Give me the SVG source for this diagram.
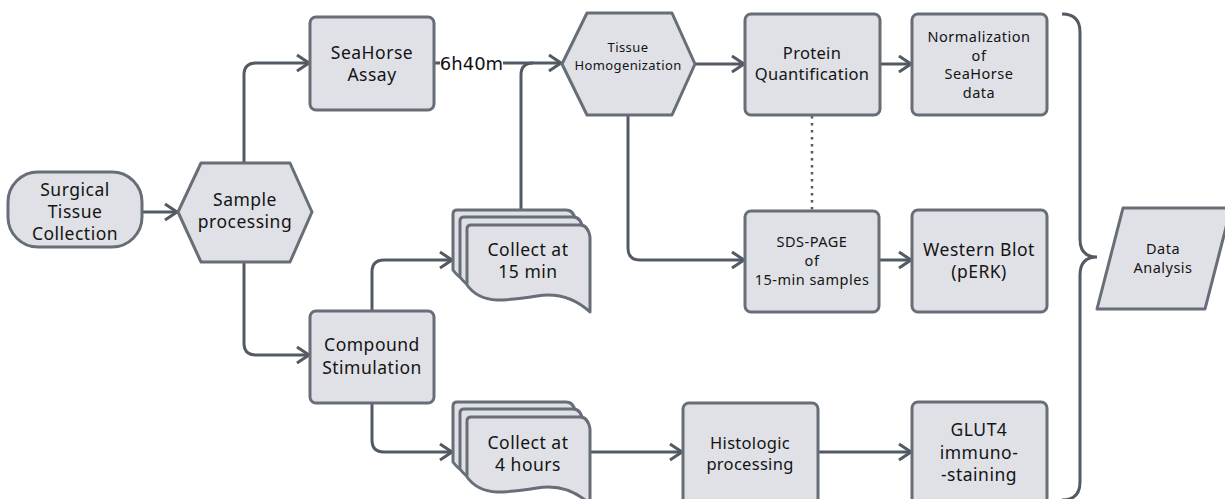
<svg xmlns="http://www.w3.org/2000/svg" width="1225" height="499" viewBox="0 0 1225 499">
<defs>
<style>
.n{fill:#dfe1e6;stroke:#676e77;stroke-width:3;stroke-linejoin:round}
.c{fill:none;stroke:#525a63;stroke-width:3}
.ca{fill:none;stroke:#525a63;stroke-width:3;marker-end:url(#arr)}
.t{font-family:"Noto Sans","Open Sans","DejaVu Sans",sans-serif;fill:#141414;text-anchor:middle}
.l{font-size:17.5px;letter-spacing:0.5px}
.m{font-size:16.5px;letter-spacing:0.3px}
.s{font-size:14.5px;letter-spacing:0.5px}
.xs{font-size:13px;letter-spacing:0.4px}
</style>
<marker id="arr" viewBox="0 0 16 20" markerWidth="16" markerHeight="20" refX="14" refY="10" orient="auto" markerUnits="userSpaceOnUse">
<path d="M2,2 L14,10 L2,18" fill="none" stroke="#525a63" stroke-width="3"/>
</marker>
<path id="doc" d="M0,4 Q0,0 4,0 H113 Q121,0 123,12 V87 Q100,66 70,71 Q45,75 30,75 Q10,74 0,60 Z"/>
</defs>
<rect width="1225" height="499" fill="#ffffff"/>

<g id="connectors">
<path class="ca" d="M142,212 H177"/>
<path class="ca" d="M244,163 V75 Q244,63 256,63 H309"/>
<path class="ca" d="M244,262 V343 Q244,355 256,355 H309"/>
<path class="ca" d="M435,63 H561"/>
<path class="c" d="M521,210 V75 Q521,63 533,63"/>
<path class="ca" d="M695,64 H744"/>
<path class="ca" d="M880,64 H911"/>
<path class="ca" d="M628,115 V248 Q628,260 640,260 H744"/>
<path d="M812,116 V210" fill="none" stroke="#525a63" stroke-width="2.5" stroke-dasharray="2.5 4.5"/>
<path class="ca" d="M879,260 H911"/>
<path class="ca" d="M372,311 V272 Q372,260 384,260 H452"/>
<path class="ca" d="M372,403 V440 Q372,452 384,452 H452"/>
<path class="ca" d="M590,452 H682"/>
<path class="ca" d="M818,452 H911"/>
<path class="c" d="M1062,14 Q1080,14 1080,32 V239 Q1080,257 1097,257 Q1080,257 1080,275 V482 Q1080,500 1062,500"/>
<rect x="440" y="53" width="63" height="20" fill="#ffffff"/>
<text x="471.5" y="69.5" font-family="DejaVu Sans, sans-serif" font-size="18" fill="#111" text-anchor="middle">6h40m</text>
</g>

<g id="surgical">
<rect class="n" x="8" y="172" width="134" height="75" rx="30" ry="30"/>
<text class="t l" x="75" y="196">Surgical</text>
<text class="t l" x="75" y="218">Tissue</text>
<text class="t l" x="75" y="240">Collection</text>
</g>

<g id="sample">
<polygon class="n" points="178,212 201,163 290,163 312,212 290,262 201,262"/>
<text class="t l" x="245" y="206">Sample</text>
<text class="t l" x="245" y="228">processing</text>
</g>

<g id="seahorse">
<rect class="n" x="310" y="17" width="124" height="93" rx="6"/>
<text class="t l" x="372" y="59">SeaHorse</text>
<text class="t l" x="372" y="81">Assay</text>
</g>

<g id="compound">
<rect class="n" x="310" y="311" width="124" height="92" rx="6"/>
<text class="t l" x="372" y="351">Compound</text>
<text class="t l" x="372" y="374">Stimulation</text>
</g>

<g id="collect15">
<use href="#doc" class="n" transform="translate(453,210)"/>
<use href="#doc" class="n" transform="translate(460,217)"/>
<use href="#doc" class="n" transform="translate(467,225)"/>
<text class="t l" x="528" y="256">Collect at</text>
<text class="t l" x="528" y="278">15 min</text>
</g>

<g id="collect4h">
<use href="#doc" class="n" transform="translate(453,402)"/>
<use href="#doc" class="n" transform="translate(460,409)"/>
<use href="#doc" class="n" transform="translate(467,417)"/>
<text class="t l" x="528" y="449">Collect at</text>
<text class="t l" x="528" y="471">4 hours</text>
</g>

<g id="homog">
<polygon class="n" points="562,64 587,13 672,13 695,64 672,115 587,115"/>
<text class="t xs" x="628" y="51.5">Tissue</text>
<text class="t xs" x="628" y="69.5">Homogenization</text>
</g>

<g id="protein">
<rect class="n" x="745" y="14" width="135" height="101" rx="6"/>
<text class="t m" x="812" y="59">Protein</text>
<text class="t m" x="812" y="80">Quantification</text>
</g>

<g id="normalization">
<rect class="n" x="912" y="14" width="135" height="101" rx="6"/>
<text class="t s" x="979" y="42">Normalization</text>
<text class="t s" x="979" y="60.5">of</text>
<text class="t s" x="979" y="79">SeaHorse</text>
<text class="t s" x="979" y="97.5">data</text>
</g>

<g id="sds">
<rect class="n" x="745" y="211" width="134" height="101" rx="6"/>
<text class="t s" x="812" y="247">SDS-PAGE</text>
<text class="t s" x="812" y="266">of</text>
<text class="t s" x="812" y="285">15-min samples</text>
</g>

<g id="western">
<rect class="n" x="912" y="210" width="135" height="102" rx="6"/>
<text class="t l" x="979" y="256">Western Blot</text>
<text class="t l" x="979" y="278">(pERK)</text>
</g>

<g id="histologic">
<rect class="n" x="683" y="403" width="135" height="102" rx="6"/>
<text class="t m" x="750" y="448.5">Histologic</text>
<text class="t m" x="750" y="469.5">processing</text>
</g>

<g id="glut4">
<rect class="n" x="912" y="402" width="135" height="102" rx="6"/>
<text class="t l" x="979" y="436">GLUT4</text>
<text class="t l" x="979" y="458.5">immuno-</text>
<text class="t l" x="979" y="481">-staining</text>
</g>

<g id="data">
<polygon class="n" points="1123,208 1231,208 1205,309 1097,309"/>
<text class="t s" x="1163" y="254">Data</text>
<text class="t s" x="1163" y="273">Analysis</text>
</g>
</svg>
